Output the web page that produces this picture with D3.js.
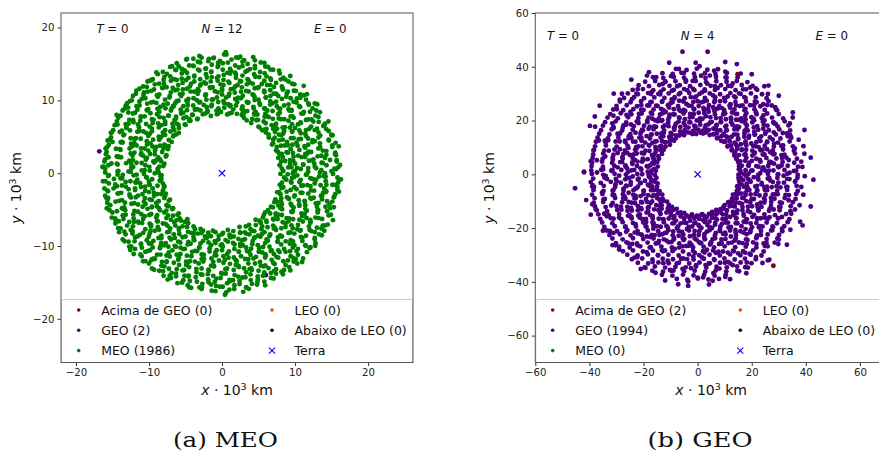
<!DOCTYPE html>
<html>
<head>
<meta charset="utf-8">
<script src="https://cdn.jsdelivr.net/npm/d3@7"></script>
<style>
body{margin:0;background:#fff}
svg{display:block;font-family:"DejaVu Sans",sans-serif}
</style>
</head>
<body>
<svg id="canvas" width="879" height="458"></svg>
<script>
// positions in units of 100 km (axis shows 10^3 km, so divide by 10)
// cartesian [x, y]
const meoPts = [
[-31,161],[-12,158],[6,163],[25,160],[5,166],
[-49,156],[-33,153],[-18,157],[-3,154],[13,156],[28,153],[45,155],
[-62,151],[-45,148],[-30,152],[-14,149],[1,151],[18,148],[35,150],[53,152],
[-71,146],[-55,143],[-39,147],[-22,144],[-6,146],[11,143],[28,147],[45,144],[63,146],
[-81,139],[-64,142],[-48,138],[-31,141],[-15,139],[1,142],[18,138],[35,141],[52,139],[70,142],
[-88,136],[-71,133],[-55,137],[-38,134],[-22,136],[-5,133],[11,137],[28,134],[44,136],[61,133],[79,137],
[-95,129],[-79,132],[-62,128],[-46,131],[-30,129],[-14,132],[2,128],[19,131],[35,129],[51,132],[67,128],[84,131],
[-102,126],[-86,123],[-70,127],[-54,124],[-38,126],[-22,123],[-6,127],[10,124],[26,126],[42,123],[58,127],[74,124],[91,126],
[-108,119],[-92,122],[-76,118],[-60,121],[-44,119],[-29,122],[-13,118],[2,121],[18,119],[34,122],[50,118],[66,121],[82,119],[99,122],
[-113,116],[-97,113],[-81,117],[-64,114],[-48,116],[-32,113],[-16,117],[0,114],[16,116],[33,113],[49,117],[66,114],[83,116],[101,113],
[-118,109],[-102,112],[-86,108],[-70,111],[-54,109],[-38,112],[-22,108],[-6,111],[10,109],[26,112],[42,108],[58,111],[74,109],[90,112],[107,108],
[-122,106],[-105,103],[-89,107],[-72,104],[-56,106],[-39,103],[-23,107],[-7,104],[9,106],[26,103],[43,107],[60,104],[77,106],[94,103],[112,107],
[-126,99],[-110,102],[-94,98],[-78,101],[-62,99],[-46,102],[-30,98],[-14,101],[2,99],[18,102],[34,98],[50,101],[66,99],[82,102],[98,98],[115,101],
[-130,96],[-113,93],[-97,97],[-80,94],[-64,96],[-47,93],[-31,97],[-14,94],[3,96],[19,93],[36,97],[52,94],[69,96],[85,93],[102,97],[119,94],
[-133,89],[-117,92],[-101,88],[-85,91],[-69,89],[-53,92],[-37,88],[-21,91],[-5,89],[11,92],[27,88],[43,91],[59,89],[75,92],[91,88],[107,91],[124,89],
[-136,86],[-119,83],[-103,87],[-86,84],[-70,86],[-53,83],[-37,87],[-20,84],[-4,86],[13,83],[29,87],[46,84],[62,86],[79,83],[95,87],[112,84],[129,86],
[-139,79],[-122,82],[-106,78],[-89,81],[-73,79],[-56,82],[-40,80],[-23,82],[-7,81],[10,82],[27,80],[44,82],[61,79],[77,81],[94,78],[111,82],[128,79],
[-142,76],[-127,73],[-111,77],[-96,74],[-80,76],[-65,73],[-49,77],[-34,74],[30,76],[47,73],[64,77],[81,74],[98,76],[115,73],[132,77],
[-144,71],[-128,68],[-112,72],[-95,69],[-78,71],[-62,68],[-45,72],[40,69],[57,71],[74,68],[91,72],[108,69],[125,71],[141,68],
[-147,66],[-131,63],[-115,67],[-99,64],[-83,66],[-67,63],[-51,67],[50,64],[68,66],[86,63],[104,67],[122,64],[140,66],
[-149,59],[-131,62],[-113,58],[-96,61],[-78,59],[-59,62],[55,59],[70,61],[85,58],[100,62],[115,59],[130,61],[146,58],
[-151,56],[-134,53],[-116,57],[-99,54],[-81,56],[-63,53],[60,56],[78,53],[96,57],[114,54],[132,56],[150,53],
[-152,49],[-135,52],[-118,48],[-101,51],[-84,49],[-66,52],[64,49],[81,52],[98,48],[115,51],[132,49],[150,52],
[-154,46],[-137,43],[-120,47],[-103,44],[-86,46],[-69,43],[70,46],[89,43],[108,47],[127,44],[146,46],
[-155,39],[-136,42],[-117,38],[-98,41],[-79,39],[70,41],[86,38],[102,42],[118,39],[134,41],[151,38],
[-157,36],[-140,33],[-123,37],[-106,34],[-90,36],[-74,33],[75,36],[94,33],[113,37],[132,34],[151,36],
[-158,29],[-139,32],[-120,28],[-101,31],[-82,29],[74,31],[90,28],[106,32],[122,29],[138,31],[155,28],
[-159,26],[-142,23],[-125,27],[-108,24],[-92,26],[-77,23],[79,26],[98,23],[117,27],[136,24],[155,26],
[-160,19],[-141,22],[-122,18],[-103,21],[-85,19],[77,21],[93,18],[109,22],[125,19],[141,21],[157,18],
[-161,16],[-144,13],[-127,17],[-110,14],[-94,16],[-79,13],[81,16],[100,13],[119,17],[138,14],[157,16],
[-162,9],[-143,12],[-124,8],[-105,11],[-86,9],[79,11],[95,8],[111,12],[127,9],[143,11],[159,8],
[-160,6],[-142,3],[-124,7],[-106,4],[-88,6],[82,6],[100,3],[118,7],[136,4],[154,6],
[-160,1],[-143,-2],[-125,2],[-107,-1],[-87,1],[80,-1],[98,2],[116,-2],[134,1],[152,-1],
[-156,-4],[-139,-7],[-121,-3],[-103,-6],[-84,-4],[85,-6],[103,-3],[121,-7],[139,-4],[158,-6],
[-163,-11],[-148,-8],[-132,-12],[-116,-9],[-100,-11],[-83,-8],[88,-9],[106,-12],[124,-8],[142,-11],[160,-9],
[-155,-14],[-137,-17],[-118,-13],[-99,-16],[-81,-14],[79,-16],[95,-13],[111,-17],[127,-14],[143,-16],[159,-13],
[-161,-21],[-144,-18],[-128,-22],[-111,-19],[-95,-21],[-79,-18],[83,-19],[102,-22],[121,-18],[140,-21],[158,-19],
[-157,-24],[-138,-27],[-119,-23],[-100,-26],[-81,-24],[78,-26],[94,-23],[110,-27],[126,-24],[142,-26],[158,-23],
[-160,-31],[-143,-28],[-126,-32],[-109,-29],[-93,-31],[-77,-28],[80,-29],[99,-32],[118,-28],[137,-31],[155,-29],
[-156,-34],[-137,-37],[-118,-33],[-99,-36],[-79,-34],[73,-36],[89,-33],[105,-37],[121,-34],[137,-36],[153,-33],
[-157,-41],[-141,-38],[-124,-42],[-107,-39],[-90,-41],[-73,-38],[75,-39],[94,-42],[113,-38],[132,-41],[151,-39],
[-153,-44],[-134,-47],[-115,-43],[-96,-46],[-76,-44],[67,-46],[82,-43],[98,-47],[114,-44],[130,-46],[147,-43],
[-154,-51],[-137,-48],[-120,-52],[-102,-49],[-85,-51],[-67,-48],[63,-51],[80,-48],[97,-52],[114,-49],[131,-51],[148,-48],
[-150,-54],[-132,-57],[-115,-53],[-97,-56],[-79,-54],[-61,-57],[59,-54],[77,-57],[95,-53],[113,-56],[131,-54],[149,-57],
[-151,-61],[-136,-58],[-121,-62],[-106,-59],[-90,-61],[-74,-58],[-58,-62],[56,-61],[74,-58],[92,-62],[110,-59],[128,-61],[146,-58],
[-146,-64],[-127,-67],[-108,-63],[-89,-66],[-70,-64],[-51,-67],[46,-64],[61,-67],[76,-63],[91,-66],[106,-64],[121,-67],[137,-63],
[-146,-69],[-130,-72],[-114,-68],[-97,-71],[-81,-69],[-64,-72],[-47,-68],[37,-71],[53,-68],[70,-72],[87,-69],[104,-71],[121,-68],[138,-72],
[-139,-76],[-122,-73],[-105,-77],[-88,-74],[-71,-76],[-54,-73],[-37,-77],[24,-74],[39,-77],[55,-73],[71,-76],[87,-74],[103,-77],[119,-73],[136,-76],
[-141,-81],[-125,-78],[-108,-82],[-92,-79],[-75,-81],[-59,-78],[-42,-82],[-26,-79],[-9,-81],[8,-78],[25,-82],[41,-79],[58,-81],[74,-78],[91,-82],[107,-79],[127,-81],[140,-79],
[-132,-84],[-116,-87],[-99,-83],[-83,-86],[-66,-84],[-50,-87],[-33,-83],[-17,-86],[0,-84],[16,-87],[33,-83],[49,-86],[66,-84],[82,-87],[99,-83],[115,-86],[133,-84],
[-136,-91],[-119,-88],[-103,-92],[-87,-89],[-70,-91],[-54,-88],[-38,-92],[-21,-89],[-5,-91],[12,-88],[28,-92],[44,-89],[61,-91],[77,-88],[94,-92],[110,-89],[127,-91],
[-128,-94],[-111,-97],[-94,-93],[-77,-96],[-60,-94],[-43,-97],[-26,-93],[-9,-96],[8,-94],[25,-97],[42,-93],[59,-96],[76,-94],[93,-97],[110,-93],[128,-96],
[-127,-101],[-111,-98],[-95,-102],[-79,-99],[-63,-101],[-47,-98],[-31,-102],[-15,-99],[1,-101],[17,-98],[33,-102],[49,-99],[65,-101],[81,-98],[97,-102],[114,-99],
[-119,-104],[-102,-107],[-85,-103],[-68,-106],[-51,-104],[-34,-107],[-17,-103],[0,-106],[17,-104],[34,-107],[51,-103],[68,-106],[85,-104],[102,-107],[120,-103],
[-121,-111],[-105,-108],[-89,-112],[-73,-109],[-57,-111],[-41,-108],[-25,-112],[-9,-109],[7,-111],[23,-108],[39,-112],[55,-109],[71,-111],[87,-108],[104,-112],
[-110,-114],[-93,-117],[-76,-113],[-59,-116],[-42,-114],[-25,-117],[-8,-113],[9,-116],[26,-114],[43,-117],[60,-113],[77,-116],[94,-114],[111,-117],
[-108,-121],[-92,-118],[-76,-122],[-60,-119],[-44,-121],[-28,-118],[-12,-122],[4,-119],[20,-121],[36,-118],[52,-122],[68,-119],[84,-121],[101,-118],
[-100,-124],[-83,-127],[-66,-123],[-49,-126],[-32,-124],[-15,-127],[2,-123],[19,-126],[36,-124],[53,-127],[70,-123],[87,-126],[103,-124],
[-96,-131],[-79,-128],[-62,-132],[-45,-129],[-28,-131],[-11,-128],[6,-132],[23,-129],[40,-131],[57,-128],[74,-132],[92,-129],
[-86,-134],[-69,-137],[-52,-133],[-35,-136],[-18,-134],[-1,-137],[16,-133],[33,-136],[50,-134],[67,-137],[85,-133],
[-80,-141],[-63,-138],[-46,-142],[-29,-139],[-12,-141],[5,-138],[22,-142],[39,-139],[56,-141],[74,-138],
[-70,-144],[-53,-147],[-36,-143],[-19,-146],[-2,-144],[15,-147],[32,-143],[49,-146],[67,-144],
[-61,-151],[-44,-148],[-27,-152],[-10,-149],[7,-151],[24,-148],[41,-152],[58,-149],
[-47,-154],[-31,-157],[-15,-153],[1,-156],[17,-154],[33,-157],[48,-153],
[-28,-159],[-9,-162],[10,-160],[29,-163],[4,-167]
]
// polar [angle deg, distance]
const meoPolar = [
[0,97],[0,141],[1,118],[2,156],[2,84],[3,129],[4,103],[4,162],[5,91],[6,137],[6,112],[7,149],[8,80],[8,125],[9,158],[10,99],[10,133],[11,116],[11,88],
[12,146],[13,107],[13,164],[14,122],[15,86],[15,139],[16,101],[17,153],[17,119],[18,93],[19,131],[19,160],[20,110],[21,82],[21,144],[22,127],[23,98],[23,155],
[24,115],[25,140],[25,89],[26,162],[27,106],[27,134],[28,150],[29,95],[29,121],[30,79],[31,143],[31,112],[32,158],[33,100],[33,128],[34,87],[35,147],[35,117],
[36,161],[37,104],[37,136],[38,92],[39,124],[39,152],[40,83],[41,113],[41,140],[42,98],[43,159],[43,126],[44,108],[45,145],[45,86],[46,131],[47,164],[47,102],
[48,119],[49,150],[49,91],[50,137],[51,110],[51,81],[52,156],[53,123],[53,97],[54,142],[55,115],[55,163],[56,88],[57,130],[57,106],[58,152],[59,94],[59,138],
[60,120],[61,161],[61,85],[62,109],[63,146],[63,127],[64,99],[65,157],[65,80],[66,134],[67,114],[67,149],[68,92],[69,125],[69,162],[70,103],[71,140],[71,87],
[72,118],[73,154],[73,96],[74,132],[75,110],[75,165],[76,84],[77,143],[77,121],[78,100],[79,158],[79,129],[80,89],[81,147],[81,112],[82,137],[83,94],[83,160],
[84,116],[85,81],[85,141],[86,126],[87,104],[87,152],[88,90],[89,135],[89,163],[90,108],[91,122],[91,84],[92,148],[93,98],[93,131],[94,159],[95,113],[95,86],
[96,140],[97,102],[97,155],[98,119],[99,93],[99,133],[100,161],[101,80],[101,127],[102,109],[103,146],[103,88],[104,124],[105,153],[105,97],[106,138],[107,114],[107,164],
[108,85],[109,130],[109,106],[110,150],[111,94],[111,120],[112,158],[113,101],[113,141],[114,82],[115,127],[115,162],[116,111],[117,90],[117,145],[118,123],[119,99],[119,156],
[120,135],[121,87],[121,116],[122,151],[123,104],[123,165],[124,128],[125,92],[125,143],[126,113],[127,160],[127,83],[128,121],[129,148],[129,100],[130,137],[131,118],[131,157],
[132,89],[133,132],[133,108],[134,154],[135,96],[135,125],[136,163],[137,81],[137,140],[138,115],[139,150],[139,103],[140,128],[141,91],[141,159],[142,119],[143,145],[143,84],
[144,107],[145,136],[145,161],[146,94],[147,124],[147,153],[148,86],[149,112],[149,142],[150,100],[151,165],[151,130],[152,118],[153,82],[153,148],[154,105],[155,139],[155,158],
[156,93],[157,121],[157,87],[158,151],[159,110],[159,134],[160,162],[161,97],[161,127],[162,80],[163,145],[163,116],[164,156],[165,102],[165,131],[166,90],[167,149],[167,114],
[168,163],[169,85],[169,125],[170,106],[171,140],[171,94],[172,157],[173,118],[173,81],[174,132],[175,152],[175,100],[176,122],[177,88],[177,164],[178,110],[179,143],[179,128],
[180,92],[181,155],[181,117],[182,83],[183,137],[183,104],[184,160],[185,126],[185,96],[186,147],[187,113],[187,86],[188,133],[189,158],[189,101],[190,121],[191,144],[191,90],
[192,162],[193,108],[193,130],[194,82],[195,151],[195,119],[196,97],[197,139],[197,165],[198,111],[199,88],[199,127],[200,153],[201,103],[201,142],[202,84],[203,118],[203,159],
[204,95],[205,134],[205,149],[206,107],[207,80],[207,124],[208,161],[209,99],[209,138],[210,115],[211,156],[211,87],[212,129],[213,106],[213,146],[214,92],[215,163],[215,121],
[216,84],[217,141],[217,110],[218,152],[219,98],[219,126],[220,164],[221,89],[221,133],[222,116],[223,150],[223,81],[224,104],[225,137],[225,158],[226,94],[227,122],[227,145],
[228,108],[229,160],[229,86],[230,131],[231,114],[231,154],[232,96],[233,140],[233,79],[234,125],[235,162],[235,102],[236,147],[237,119],[237,88],[238,135],[239,157],[239,111],
[240,93],[241,128],[241,150],[242,83],[243,117],[243,164],[244,105],[245,139],[245,91],[246,155],[247,123],[247,99],[248,144],[249,82],[249,132],[250,160],[251,113],[251,87],
[252,148],[253,101],[253,127],[254,163],[255,90],[255,136],[256,115],[257,153],[257,84],[258,121],[259,142],[259,97],[260,159],[261,109],[261,80],[262,134],[263,151],[263,118],
[264,94],[265,162],[265,128],[266,106],[267,145],[267,86],[268,120],[269,156],[269,99],[270,138],[271,82],[271,114],[272,164],[273,131],[273,92],[274,149],[275,108],[275,125],
[276,160],[277,88],[277,141],[278,117],[279,97],[279,154],[280,129],[281,81],[281,146],[282,110],[283,163],[283,134],[284,93],[285,122],[285,152],[286,103],[287,139],[287,85],
[288,157],[289,114],[289,96],[290,132],[291,165],[291,87],[292,124],[293,148],[293,106],[294,80],[295,140],[295,119],[296,161],[297,99],[297,130],[298,152],[299,91],[299,116],
[300,144],[301,102],[301,158],[302,126],[303,85],[303,137],[304,112],[305,163],[305,94],[306,131],[307,150],[307,108],[308,83],[309,121],[309,156],[310,97],[311,142],[311,117],
[312,164],[313,89],[313,128],[314,104],[315,147],[315,81],[316,135],[317,159],[317,111],[318,95],[319,124],[319,152],[320,86],[321,139],[321,107],[322,162],[323,119],[323,92],
[324,133],[325,155],[325,100],[326,84],[327,143],[327,116],[328,161],[329,96],[329,129],[330,150],[331,110],[331,82],[332,137],[333,158],[333,122],[334,90],[335,146],[335,105],
[336,127],[337,165],[337,88],[338,114],[339,141],[339,98],[340,153],[341,120],[341,80],[342,135],[343,104],[343,160],[344,92],[345,130],[345,149],[346,111],[347,86],[347,139],
[348,157],[349,101],[349,124],[350,145],[351,83],[351,162],[352,118],[353,95],[353,136],[354,152],[355,108],[355,87],[356,129],[357,163],[357,99],[358,142],[359,115],[359,90],
[1,150],[3,108],[6,127],[8,94],[10,145],[13,117],[15,161],[18,86],[20,132],[22,104],[25,153],[27,121],[30,90],[32,139],[34,112],[37,159],[39,97],[42,128],[44,149],[46,83],
[49,118],[51,141],[54,101],[56,155],[58,125],[61,92],[63,136],[66,110],[68,158],[70,87],[73,130],[75,148],[78,106],[80,123],[82,160],[85,95],[87,138],[90,116],[92,152],[94,82],
[97,127],[99,145],[102,103],[104,162],[106,120],[109,91],[111,137],[114,155],[116,108],[118,130],[121,84],[123,146],[126,114],[128,161],[130,98],[133,124],[135,152],[138,88],[140,134],[142,111],
[145,157],[147,96],[150,140],[152,122],[154,85],[157,149],[159,102],[162,131],[164,163],[166,114],[169,92],[171,146],[174,125],[176,156],[178,99],[181,136],[183,84],[186,119],[188,150],[190,107],
[193,161],[195,129],[198,93],[200,144],[202,113],[205,156],[207,100],[210,133],[212,86],[214,148],[217,122],[219,160],[222,104],[224,139],[226,90],[229,127],[231,152],[234,110],[236,83],[238,143],
[241,117],[243,158],[246,96],[248,131],[250,150],[253,107],[255,163],[258,124],[260,88],[262,140],[265,113],[267,155],[270,98],[272,132],[274,147],[277,85],[279,121],[282,160],[284,103],[286,137],
[289,150],[291,111],[294,92],[296,145],[298,126],[301,162],[303,100],[306,134],[308,86],[310,152],[313,117],[315,140],[318,94],[320,158],[322,123],[325,108],[327,146],[330,89],[332,131],[334,161],
[337,115],[339,98],[342,149],[344,127],[346,84],[349,141],[351,110],[354,156],[356,96],[358,133]
]
const meoGeoPts = [[-168,30],[60,-140]]

const geoPts = [
[-56,456],[37,456],[-105,415],[102,418],
[-80,392],[-41,388],[-3,393],[36,389],[75,391],
[-130,376],[-92,373],[-51,377],[-13,374],[27,376],[66,373],[108,377],
[-165,361],[-127,358],[-88,362],[-50,359],[-10,361],[29,358],[68,362],[107,359],[148,361],
[-194,344],[-157,347],[-120,343],[-82,346],[-44,344],[-7,347],[31,343],[69,346],[107,344],[145,347],[184,343],
[-218,331],[-180,328],[-142,332],[-104,329],[-66,331],[-28,328],[10,332],[48,329],[86,331],[124,328],[163,332],[203,329],
[-240,314],[-202,317],[-164,313],[-126,316],[-88,314],[-50,317],[-12,313],[26,316],[64,314],[102,317],[140,313],[179,316],[220,314],
[-258,301],[-221,298],[-183,302],[-145,299],[-107,301],[-69,298],[-31,302],[7,299],[45,301],[83,298],[121,302],[159,299],[197,301],[238,298],
[-272,284],[-235,287],[-198,283],[-160,286],[-123,284],[-85,287],[-48,283],[-10,286],[27,284],[65,287],[102,283],[140,286],[177,284],[215,287],[255,283],
[-287,271],[-248,268],[-209,272],[-170,269],[-131,271],[-93,268],[-54,272],[-16,269],[23,271],[62,268],[101,272],[140,269],[179,271],[218,268],[262,272],
[-300,254],[-262,257],[-224,253],[-186,256],[-148,254],[-110,257],[-72,253],[-34,256],[4,254],[42,257],[80,253],[118,256],[156,254],[194,257],[232,253],[274,256],
[-312,241],[-275,238],[-238,242],[-200,239],[-163,241],[-126,238],[-88,242],[-51,239],[-14,241],[24,238],[61,242],[98,239],[136,241],[173,238],[210,242],[248,239],[290,241],
[-323,224],[-284,227],[-245,223],[-207,226],[-168,224],[-129,227],[-91,223],[-52,226],[-14,224],[25,227],[64,223],[102,226],[141,224],[180,227],[218,223],[257,226],[300,224],
[-333,211],[-295,208],[-257,212],[-219,209],[-181,211],[-143,208],[-105,212],[-67,209],[-29,211],[9,208],[47,212],[85,209],[123,211],[161,208],[199,212],[237,209],[275,211],[316,208],
[-342,194],[-303,197],[-264,193],[-225,196],[-186,194],[-147,197],[-109,193],[-70,196],[-31,194],[8,197],[47,193],[86,196],[124,194],[163,197],[202,193],[241,196],[280,194],[322,197],
[-350,181],[-312,178],[-274,182],[-236,179],[-198,181],[-160,178],[-122,182],[-84,179],[-46,181],[-8,178],[30,182],[68,179],[106,181],[144,178],[182,182],[220,179],[258,181],[296,178],[336,182],
[-357,164],[-318,167],[-279,163],[-240,166],[-202,164],[-163,167],[-124,163],[-86,166],[-47,164],[-9,167],[30,163],[69,166],[108,164],[146,167],[185,163],[224,166],[263,164],[302,167],[342,163],
[-364,151],[-326,148],[-287,152],[-249,149],[-211,151],[-172,148],[-134,152],[-96,149],[-57,151],[-19,150],[20,152],[58,149],[96,151],[135,148],[173,152],[212,149],[250,151],[289,148],[330,152],
[-370,136],[-332,133],[-293,137],[-254,134],[-215,136],[-176,133],[-137,137],[-98,134],[72,134],[111,137],[150,133],[189,136],[228,134],[267,137],[306,133],[346,136],
[-376,121],[-340,118],[-303,122],[-267,119],[-230,121],[-194,118],[-157,122],[-120,119],[97,121],[137,118],[177,122],[217,119],[257,121],[297,118],[340,122],
[-379,104],[-339,107],[-299,103],[-259,106],[-219,104],[-179,107],[-139,103],[112,106],[146,103],[180,107],[214,104],[248,106],[282,103],[316,107],[352,104],
[-383,91],[-345,88],[-307,92],[-269,89],[-231,91],[-193,88],[-154,92],[126,89],[164,92],[202,88],[240,91],[278,89],[316,92],[356,88],
[-386,74],[-349,77],[-311,73],[-274,76],[-236,74],[-198,77],[-160,73],[136,76],[173,73],[210,77],[247,74],[284,76],[321,73],[360,77],
[-388,61],[-351,58],[-314,62],[-277,59],[-240,61],[-203,58],[-165,62],[143,59],[180,62],[217,58],[254,61],[291,59],[328,62],[367,58],
[-390,44],[-353,47],[-316,43],[-279,46],[-242,44],[-205,47],[-167,43],[150,46],[191,43],[232,47],[273,44],[314,46],[357,43],
[-392,31],[-350,28],[-308,32],[-266,29],[-224,31],[-182,28],[153,29],[189,32],[225,28],[261,31],[297,29],[333,32],[371,28],
[-393,14],[-356,17],[-319,13],[-282,16],[-245,14],[-208,17],[-170,13],[157,16],[198,13],[239,17],[280,14],[321,16],[364,13],
[-391,1],[-349,-2],[-307,2],[-265,-1],[-223,1],[-181,-2],[152,-1],[188,2],[224,-2],[260,1],[296,-1],[332,2],[370,-2],
[-386,-16],[-344,-13],[-302,-17],[-260,-14],[-218,-16],[-175,-13],[151,-14],[187,-17],[223,-13],[259,-16],[295,-14],[331,-17],[369,-13],
[-395,-29],[-358,-32],[-321,-28],[-284,-31],[-247,-29],[-210,-32],[-172,-28],[155,-31],[196,-28],[237,-32],[278,-29],[319,-31],[360,-28],
[-389,-46],[-347,-43],[-305,-47],[-263,-44],[-221,-46],[-179,-43],[148,-44],[184,-47],[220,-43],[256,-46],[292,-44],[328,-47],[366,-43],
[-385,-59],[-348,-62],[-311,-58],[-274,-61],[-237,-59],[-200,-62],[-162,-58],[146,-61],[183,-58],[220,-62],[257,-59],[294,-61],[331,-58],[370,-62],
[-390,-76],[-352,-73],[-314,-77],[-276,-74],[-238,-76],[-200,-73],[-162,-77],[140,-74],[177,-77],[214,-73],[251,-76],[288,-74],[325,-77],[364,-73],
[-381,-89],[-343,-92],[-305,-88],[-267,-91],[-229,-89],[-191,-92],[-150,-88],[132,-91],[170,-88],[208,-92],[246,-89],[284,-91],[322,-88],[362,-92],
[-384,-106],[-349,-103],[-314,-107],[-279,-104],[-244,-106],[-209,-103],[-174,-107],[-136,-104],[116,-103],[155,-107],[194,-104],[233,-106],[272,-103],[311,-107],[352,-104],
[-380,-119],[-340,-122],[-300,-118],[-260,-121],[-220,-119],[-180,-122],[-139,-118],[96,-121],[131,-118],[166,-122],[201,-119],[236,-121],[271,-118],[306,-122],[344,-119],
[-373,-134],[-335,-137],[-297,-133],[-259,-136],[-221,-134],[-183,-137],[-145,-133],[-106,-136],[69,-133],[108,-136],[147,-134],[186,-137],[225,-133],[264,-136],[303,-134],[343,-137],
[-367,-149],[-329,-152],[-290,-148],[-252,-151],[-214,-149],[-175,-152],[-137,-148],[-99,-151],[-60,-149],[-22,-152],[17,-148],[55,-151],[93,-149],[132,-152],[170,-148],[209,-151],[247,-149],[286,-152],[327,-148],
[-360,-166],[-321,-163],[-282,-167],[-244,-164],[-205,-166],[-166,-163],[-128,-167],[-89,-164],[-50,-166],[-12,-163],[27,-167],[66,-164],[104,-166],[143,-163],[182,-167],[220,-164],[259,-166],[298,-163],[339,-167],
[-353,-179],[-315,-182],[-277,-178],[-239,-181],[-201,-179],[-163,-182],[-125,-178],[-87,-181],[-49,-179],[-11,-182],[27,-178],[65,-181],[103,-179],[141,-182],[179,-178],[217,-181],[255,-179],[293,-182],[333,-178],
[-345,-196],[-306,-193],[-267,-197],[-228,-194],[-189,-196],[-150,-193],[-111,-197],[-72,-194],[-33,-196],[6,-193],[45,-197],[84,-194],[123,-196],[162,-193],[201,-197],[240,-194],[279,-196],[320,-193],
[-336,-209],[-298,-212],[-260,-208],[-222,-211],[-184,-209],[-146,-212],[-108,-208],[-70,-211],[-32,-209],[6,-212],[44,-208],[82,-211],[120,-209],[158,-212],[196,-208],[234,-211],[272,-209],[313,-212],
[-326,-226],[-287,-223],[-248,-227],[-209,-224],[-170,-226],[-131,-223],[-92,-227],[-53,-224],[-14,-226],[25,-223],[64,-227],[103,-224],[142,-226],[181,-223],[220,-227],[259,-224],[301,-226],
[-315,-239],[-277,-242],[-239,-238],[-201,-241],[-163,-239],[-125,-242],[-87,-238],[-49,-241],[-11,-239],[27,-242],[65,-238],[103,-241],[141,-239],[179,-242],[217,-238],[255,-241],[295,-239],
[-302,-256],[-263,-253],[-224,-257],[-185,-254],[-146,-256],[-107,-253],[-68,-257],[-29,-254],[10,-256],[49,-253],[88,-257],[127,-254],[166,-256],[205,-253],[244,-257],[285,-254],
[-290,-269],[-251,-272],[-212,-268],[-173,-271],[-134,-269],[-95,-272],[-56,-268],[-17,-271],[22,-269],[61,-272],[100,-268],[139,-271],[178,-269],[217,-272],[259,-268],
[-276,-286],[-239,-283],[-202,-287],[-165,-284],[-128,-286],[-91,-283],[-54,-287],[-17,-284],[20,-286],[57,-283],[94,-287],[131,-284],[168,-286],[205,-283],[244,-287],
[-260,-299],[-222,-302],[-184,-298],[-146,-301],[-108,-299],[-70,-302],[-32,-298],[6,-301],[44,-299],[82,-302],[120,-298],[158,-301],[196,-299],[236,-302],
[-243,-316],[-205,-313],[-167,-317],[-129,-314],[-91,-316],[-53,-313],[-15,-317],[23,-314],[61,-316],[99,-313],[137,-317],[175,-314],[215,-316],
[-221,-329],[-183,-332],[-145,-328],[-107,-331],[-69,-329],[-31,-332],[7,-328],[45,-331],[83,-329],[121,-332],[159,-328],[199,-331],
[-196,-346],[-158,-343],[-120,-347],[-82,-344],[-44,-346],[-6,-343],[32,-347],[70,-344],[108,-346],[146,-343],[186,-347],
[-167,-359],[-128,-362],[-89,-358],[-50,-361],[-11,-359],[28,-362],[67,-358],[106,-361],[147,-359],
[-132,-374],[-93,-377],[-54,-373],[-15,-376],[24,-374],[63,-377],[104,-373],
[-77,-389],[-38,-392],[1,-388],[40,-391],[79,-389],
[-453,-52],[-420,10],[-412,-96],[-398,180],[-380,215],[-362,255],[-310,300],[-245,352],[-180,380],
[145,410],[200,372],[262,330],[300,292],[352,230],[395,165],[418,62],[428,-20],[418,-120],[388,-190],
[330,-262],[265,-318],[180,-368],[120,-390],[42,-410],[-35,-415],[-120,-395],[-210,-352],[-290,-280],[-350,-210],[-395,-150]
]
const geoPolar = [
[0,172],[0,298],[1,231],[2,356],[2,160],[3,265],[4,203],[4,388],[5,178],[6,312],[6,244],[7,154],[8,285],[8,219],[9,341],[10,190],[10,270],[11,166],[11,402],
[12,236],[13,318],[13,158],[14,207],[15,289],[15,372],[16,183],[17,252],[17,165],[18,330],[19,214],[19,395],[20,273],[21,155],[21,226],[22,305],[23,192],[23,362],
[24,247],[25,169],[25,283],[26,350],[27,201],[27,153],[28,263],[29,322],[29,186],[30,229],[31,410],[31,162],[32,296],[33,211],[33,175],[34,340],[35,257],[35,195],
[36,157],[37,306],[37,238],[38,180],[39,378],[39,222],[40,271],[41,164],[41,198],[42,327],[43,246],[43,151],[44,290],[45,208],[45,364],[46,171],[47,259],[47,316],
[48,188],[49,233],[49,396],[50,159],[51,279],[51,216],[52,344],[53,176],[53,254],[54,301],[55,152],[55,225],[56,385],[57,194],[57,268],[58,167],[59,335],[59,240],
[60,205],[61,293],[61,156],[62,358],[63,230],[63,184],[64,275],[65,168],[65,320],[66,212],[67,407],[67,250],[68,161],[69,197],[69,310],[70,262],[71,179],[71,348],
[72,220],[73,153],[73,284],[74,375],[75,202],[75,242],[76,170],[77,329],[77,256],[78,190],[79,158],[79,299],[80,236],[81,390],[81,175],[82,218],[83,276],[83,163],
[84,339],[85,207],[85,248],[86,155],[87,305],[87,185],[88,367],[89,229],[89,166],[90,272],[91,200],[91,415],[92,150],[93,318],[93,243],[94,181],[95,288],[95,214],
[96,162],[97,352],[97,226],[98,195],[99,265],[99,156],[100,398],[101,240],[101,177],[102,309],[103,210],[103,160],[104,282],[105,378],[105,198],[106,251],[107,168],[107,325],
[108,222],[109,154],[109,294],[110,187],[111,360],[111,238],[112,172],[113,270],[113,205],[114,336],[115,159],[115,245],[116,300],[117,193],[117,412],[118,231],[119,165],[119,278],
[120,345],[121,209],[121,157],[122,262],[123,183],[123,320],[124,240],[125,152],[125,386],[126,218],[127,287],[127,174],[128,255],[129,199],[129,331],[130,161],[131,234],[131,370],
[132,190],[133,273],[133,150],[134,312],[135,213],[135,168],[136,400],[137,248],[137,180],[138,296],[139,157],[139,225],[140,343],[141,196],[141,264],[142,171],[143,308],[143,236],
[144,155],[145,380],[145,204],[146,277],[147,186],[147,164],[148,326],[149,242],[149,210],[150,152],[151,291],[151,355],[152,176],[153,229],[153,268],[154,198],[155,418],[155,160],
[156,249],[157,313],[157,183],[158,154],[159,274],[159,221],[160,365],[161,170],[161,238],[162,302],[163,193],[163,156],[164,260],[165,340],[165,207],[166,166],[167,285],[167,395],
[168,227],[169,178],[169,150],[170,318],[171,244],[171,190],[172,376],[173,162],[173,269],[174,212],[175,297],[175,155],[176,235],[177,350],[177,185],[178,258],[179,172],[179,420],
[180,205],[181,290],[181,158],[182,240],[183,335],[183,180],[184,268],[185,153],[185,222],[186,390],[187,196],[187,306],[188,167],[189,251],[189,215],[190,160],[191,360],[191,279],
[192,188],[193,232],[193,152],[194,318],[195,174],[195,264],[196,405],[197,208],[197,157],[198,289],[199,243],[199,182],[200,340],[201,162],[201,226],[202,275],[203,199],[203,375],
[204,154],[205,255],[205,311],[206,186],[207,230],[207,165],[208,352],[209,213],[209,278],[210,151],[211,196],[211,300],[212,245],[213,170],[213,387],[214,222],[215,158],[215,268],
[216,330],[217,191],[217,236],[218,160],[219,295],[219,207],[220,410],[221,176],[221,253],[222,152],[223,318],[223,228],[224,185],[225,272],[225,363],[226,200],[227,156],[227,244],
[228,306],[229,168],[229,219],[230,345],[231,183],[231,260],[232,154],[233,292],[233,210],[234,380],[235,171],[235,238],[236,159],[237,325],[237,196],[238,266],[239,150],[239,224],
[240,286],[241,178],[241,398],[242,246],[243,162],[243,205],[244,335],[245,190],[245,272],[246,155],[247,231],[247,308],[248,168],[249,354],[249,214],[250,258],[251,152],[251,193],
[252,300],[253,239],[253,172],[254,370],[255,158],[255,222],[256,281],[257,186],[257,340],[258,250],[259,163],[259,207],[260,415],[261,270],[261,175],[262,151],[263,318],[263,232],
[264,195],[265,263],[265,160],[266,350],[267,211],[267,179],[268,293],[269,154],[269,243],[270,385],[271,188],[271,226],[272,166],[273,310],[273,256],[274,200],[275,152],[275,339],
[276,236],[277,172],[277,283],[278,400],[279,216],[279,157],[280,265],[281,193],[281,325],[282,162],[283,248],[283,360],[284,181],[285,298],[285,207],[286,153],[287,271],[287,228],
[288,170],[289,345],[289,198],[290,258],[291,150],[291,312],[292,221],[293,183],[293,392],[294,280],[295,164],[295,240],[296,205],[297,330],[297,157],[298,262],[299,190],[299,375],
[300,228],[301,166],[301,296],[302,212],[303,352],[303,155],[304,250],[305,185],[305,317],[306,408],[307,199],[307,160],[308,275],[309,234],[309,172],[310,338],[311,218],[311,152],
[312,290],[313,192],[313,365],[314,245],[315,168],[315,205],[316,325],[317,154],[317,268],[318,230],[319,182],[319,395],[320,300],[321,162],[321,213],[322,257],[323,176],[323,345],
[324,240],[325,156],[325,285],[326,198],[327,372],[327,222],[328,170],[329,310],[329,262],[330,151],[331,206],[331,340],[332,187],[333,247],[333,165],[334,296],[335,418],[335,220],
[336,175],[337,268],[337,158],[338,325],[339,210],[339,190],[340,383],[341,242],[341,162],[342,285],[343,200],[343,153],[344,350],[345,228],[345,178],[346,305],[347,255],[347,167],
[348,218],[349,398],[349,185],[350,278],[351,155],[351,240],[352,335],[353,195],[353,170],[354,300],[355,225],[355,160],[356,362],[357,208],[357,265],[358,180],[359,318],[359,152],
[1,340],[3,252],[5,301],[7,386],[9,268],[11,318],[13,236],[15,405],[17,281],[19,327],[21,249],[23,372],[25,306],[27,231],[29,390],[31,274],[33,344],[35,296],[37,262],[39,318],
[41,380],[43,238],[45,292],[47,356],[49,270],[51,331],[53,410],[55,248],[57,305],[59,377],[61,263],[63,338],[65,288],[67,242],[69,362],[71,300],[73,256],[75,395],[77,283],[79,334],
[81,246],[83,370],[85,312],[87,268],[89,402],[91,290],[93,348],[95,255],[97,315],[99,382],[101,277],[103,336],[105,244],[107,295],[109,365],[111,282],[113,392],[115,328],[117,260],[119,350],
[121,298],[123,240],[125,312],[127,376],[129,266],[131,318],[133,410],[135,250],[137,340],[139,290],[141,384],[143,262],[145,322],[147,248],[149,368],[151,280],[153,332],[155,296],[157,245],[159,354],
[161,386],[163,272],[165,306],[167,238],[169,348],[171,290],[173,398],[175,262],[177,315],[179,372],[181,340],[183,252],[185,300],[187,386],[189,268],[191,320],[193,236],[195,360],[197,282],[199,398],
[201,250],[203,308],[205,370],[207,276],[209,332],[211,244],[213,292],[215,380],[217,268],[219,340],[221,402],[223,260],[225,312],[227,354],[229,250],[231,298],[233,388],[235,276],[237,346],[239,300],
[241,250],[243,366],[245,312],[247,398],[249,270],[251,340],[253,290],[255,372],[257,244],[259,320],[261,356],[263,268],[265,400],[267,306],[269,338],[271,252],[273,384],[275,292],[277,334],[279,372],
[281,260],[283,300],[285,395],[287,344],[289,270],[291,362],[293,240],[295,316],[297,388],[299,282],[301,340],[303,258],[305,376],[307,306],[309,412],[311,270],[313,320],[315,360],[317,246],[319,300],
[321,386],[323,276],[325,338],[327,296],[329,400],[331,254],[333,350],[335,310],[337,376],[339,266],[341,322],[343,394],[345,288],[347,346],[349,252],[351,310],[353,386],[355,270],[357,340],[359,396]
]
const geoAbovePts = [[148,372],[280,-340]]

const earth = [[0, 0]]

const legendColors = ["#8b0000", "#4b0082", "#008000", "#ff4500", "#000000", "#0000ff"]
const legendLabelsA = ["Acima de GEO (0)", "GEO (2)", "MEO (1986)", "LEO (0)", "Abaixo de LEO (0)", "Terra"]
const legendLabelsB = ["Acima de GEO (2)", "GEO (1994)", "MEO (0)", "LEO (0)", "Abaixo de LEO (0)", "Terra"]

const ticksA = [-20, -10, 0, 10, 20]
const ticksB = [-60, -40, -20, 0, 20, 40, 60]

// polar (angle, distance) -> x, y
let fromPolar = p => [p[1] * Math.cos(p[0] * Math.PI / 180), p[1] * Math.sin(p[0] * Math.PI / 180)]

let svg = d3.select("#canvas")

drawPanel = (cfg) => {
    let x = d3.scaleLinear().domain(cfg.xDom).range([cfg.left, cfg.right])
    let y = d3.scaleLinear().domain(cfg.yDom).range([cfg.bottom, cfg.top])
    let g = svg.append("g")

    g.append("clipPath").attr("id", cfg.id + "clip")
        .append("rect")
        .attr("x", cfg.left).attr("y", cfg.top)
        .attr("width", cfg.right - cfg.left).attr("height", cfg.bottom - cfg.top)

    let plot = g.append("g").attr("clip-path", "url(#" + cfg.id + "clip)")

    cfg.series.forEach(s => {
        plot.selectAll(null)
            .data(s.pts)
            .enter()
            .append("circle")
            .attr("cx", d => x(d[0] / 10))
            .attr("cy", d => y(d[1] / 10))
            .attr("r", 2.45)
            .attr("fill", s.color)
    })

    // earth marker
    plot.selectAll(null).data(earth).enter()
        .append("path")
        .attr("d", d => {
            let cx = x(d[0]), cy = y(d[1]), h = 3.2
            return `M${cx-h},${cy-h}L${cx+h},${cy+h}M${cx-h},${cy+h}L${cx+h},${cy-h}`
        })
        .attr("stroke", "#0000ff").attr("stroke-width", 1.1)

    // header texts
    let hy = y(cfg.headY) + 5
    let addHead = (xpos, anchor, v, rest) => {
        let t = g.append("text").attr("x", xpos).attr("y", hy)
            .attr("text-anchor", anchor).attr("font-size", 11.8).attr("fill", "#111")
        t.append("tspan").attr("font-style", "italic").text(v)
        t.append("tspan").text(rest)
    }
    addHead(x(cfg.headX[0]), "start", "T", " = 0")
    addHead(x(cfg.headX[1]), "middle", "N", " = " + cfg.n)
    addHead(x(cfg.headX[2]), "start", "E", " = 0")

    // legend
    let lg = g.append("g")
    lg.append("rect")
        .attr("x", cfg.left + 0.5).attr("y", 299.5)
        .attr("width", cfg.right - cfg.left - 1).attr("height", cfg.bottom - 299.5)
        .attr("rx", 2)
        .attr("fill", "white").attr("fill-opacity", 0.8)
        .attr("stroke", "#cccccc").attr("stroke-width", 1)
    cfg.labels.forEach((lab, i) => {
        let col = Math.floor(i / 3), row = i % 3
        let mx = cfg.left + cfg.legMarker[col], ty = 310 + row * 20.3
        if (i == 5) {
            lg.append("path")
                .attr("d", `M${mx-3},${ty-3}L${mx+3},${ty+3}M${mx-3},${ty+3}L${mx+3},${ty-3}`)
                .attr("stroke", legendColors[i]).attr("stroke-width", 1.1)
        } else {
            lg.append("circle").attr("cx", mx).attr("cy", ty).attr("r", 1.8).attr("fill", legendColors[i])
        }
        lg.append("text")
            .attr("x", mx + 22.5).attr("y", ty + 4.5)
            .attr("font-size", 12.5).attr("fill", "#111")
            .text(lab)
    })

    // axes
    let xAxis = d3.axisBottom(x).tickValues(cfg.ticks).tickSize(3.5).tickSizeOuter(0).tickPadding(3)
    let yAxis = d3.axisLeft(y).tickValues(cfg.ticks).tickSize(3.5).tickSizeOuter(0).tickPadding(3)
    let gx = g.append("g").attr("transform", `translate(0,${cfg.bottom})`).call(xAxis)
    let gy = g.append("g").attr("transform", `translate(${cfg.left},0)`).call(yAxis)
    ;[gx, gy].forEach(a => {
        a.select(".domain").remove()
        a.selectAll("line").attr("stroke", "#333")
        a.selectAll("text").attr("font-size", 10.2).attr("fill", "#222")
            .attr("font-family", "DejaVu Sans, sans-serif")
    })

    // frame
    g.append("rect")
        .attr("x", cfg.left).attr("y", cfg.top)
        .attr("width", cfg.right - cfg.left).attr("height", cfg.bottom - cfg.top)
        .attr("fill", "none").attr("stroke", "#555").attr("stroke-width", 1)

    // axis labels
    let xl = g.append("text")
        .attr("x", (cfg.left + cfg.right) / 2).attr("y", 395)
        .attr("text-anchor", "middle").attr("font-size", 14).attr("fill", "#111")
    xl.append("tspan").attr("font-style", "italic").text("x")
    xl.append("tspan").text(" \u00b7 10")
    xl.append("tspan").attr("dy", -5).attr("font-size", 9.5).text("3")
    xl.append("tspan").attr("dy", 5).text(" km")

    let yl = g.append("text")
        .attr("transform", `translate(${cfg.yLabelX},188) rotate(-90)`)
        .attr("text-anchor", "middle").attr("font-size", 14).attr("fill", "#111")
    yl.append("tspan").attr("font-style", "italic").text("y")
    yl.append("tspan").text(" \u00b7 10")
    yl.append("tspan").attr("dy", -5).attr("font-size", 9.5).text("3")
    yl.append("tspan").attr("dy", 5).text(" km")

    // caption
    svg.append("text")
        .attr("x", cfg.capX).attr("y", 447)
        .attr("text-anchor", "middle")
        .attr("font-family", "DejaVu Serif, serif")
        .attr("font-size", 21).attr("fill", "#111")
        .attr("textLength", 105).attr("lengthAdjust", "spacingAndGlyphs")
        .text(cfg.caption)
}

drawPanel({
    id: "a", left: 61, right: 413, top: 13, bottom: 362.5,
    xDom: [-22.05, 26.15], yDom: [-26, 22], ticks: ticksA,
    series: [{pts: meoGeoPts, color: legendColors[1]},
             {pts: meoPts.concat(meoPolar.map(fromPolar)), color: legendColors[2]}],
    headY: 20, headX: [-17.2, 0, 12.6], n: 12,
    labels: legendLabelsA, legMarker: [17.7, 211],
    yLabelX: 21, capX: 225.5, caption: "(a) MEO"
})

drawPanel({
    id: "b", left: 535.3, right: 887, top: 13, bottom: 362.5,
    xDom: [-60, 70], yDom: [-70, 60], ticks: ticksB,
    series: [{pts: geoAbovePts, color: legendColors[0]},
             {pts: geoPts.concat(geoPolar.map(fromPolar)), color: legendColors[1]}],
    headY: 52, headX: [-55.7, 0, 43.6], n: 4,
    labels: legendLabelsB, legMarker: [17.4, 205],
    yLabelX: 494, capX: 700, caption: "(b) GEO"
})
</script>
</body>
</html>
